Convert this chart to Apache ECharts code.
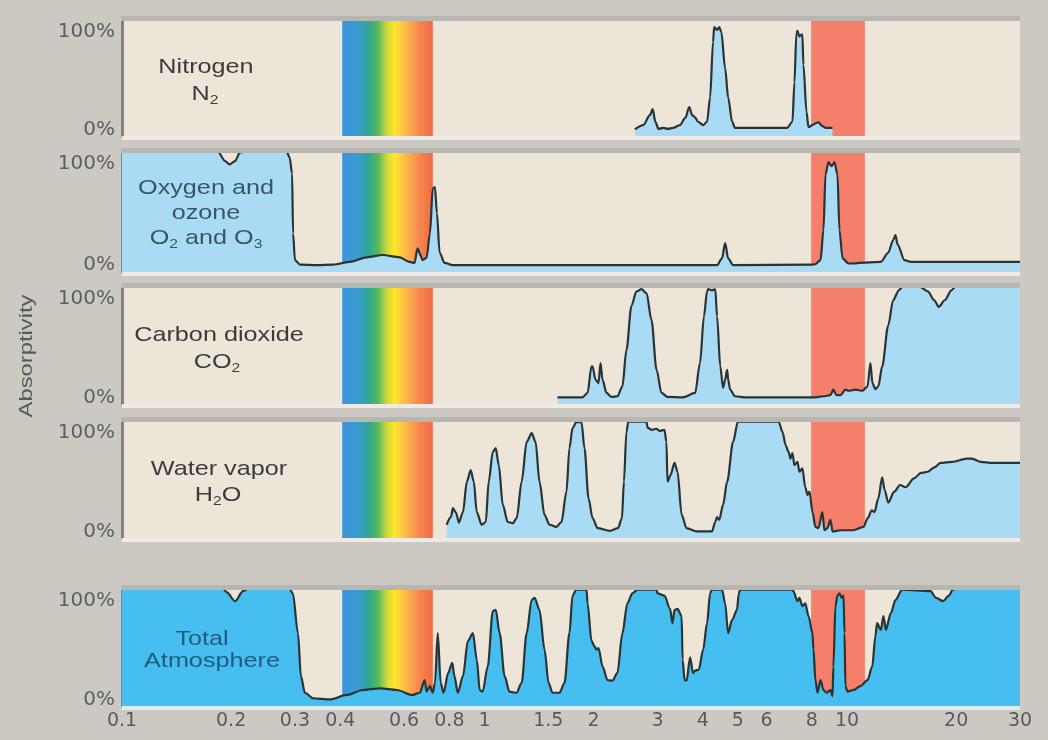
<!DOCTYPE html>
<html><head><meta charset="utf-8">
<script src="https://cdn.jsdelivr.net/npm/echarts@6/dist/echarts.min.js"></script>
<style>html,body{margin:0;padding:0;background:#ccc9c3}#c{width:1048px;height:740px}</style>
</head><body><div id="c"></div><script>
// ---- data (wavelength in micrometres, absorptivity in %) ----
const xTickLabels = [0.1,0.2,0.3,0.4,0.6,0.8,1,1.5,2,3,4,5,6,8,10,20,30];
const xTickMarks = [0.2,0.3,0.4,0.5,0.6,0.7,0.8,0.9,1,1.5,2,3,4,5,6,7,8,10,15,20];
const yTickValues = [0,100];
const visibleBand = [0.405,0.72];
const windowBand = [7.96,11.2];

const nitrogen = [[2.60,0],[2.74,4],[2.86,13],[2.91,18.5],[2.96,7],[3.02,0.5],[3.11,1.5],[3.21,0.5],[3.31,1.5],[3.46,4],[3.58,10.5],[3.67,20.5],[3.74,13],[3.81,11],[3.88,7],[4.01,4],[4.11,7],[4.19,29],[4.27,80],[4.30,93.5],[4.38,91],[4.44,93.5],[4.50,89],[4.61,56],[4.70,29],[4.82,7],[4.91,1.5],[5.17,1.5],[6.14,1.5],[6.84,1.5],[7.07,7],[7.16,43],[7.25,88],[7.30,90],[7.39,85],[7.53,87],[7.58,59],[7.73,16],[7.83,2],[8.03,4],[8.18,5.5],[8.34,6.5],[8.55,3],[8.72,1.5],[9.12,1.5]];

const oxygenOzone = [[0.1,100],[0.184,100],[0.1925,92],[0.198,89],[0.205,92],[0.2115,99.5],[0.217,100],[0.285,100],[0.29,95],[0.2946,81],[0.2964,28],[0.3,4.5],[0.31,0.5],[0.345,0],[0.382,0.5],[0.426,3],[0.474,7],[0.524,9],[0.583,7],[0.621,3],[0.641,2],[0.6535,15],[0.666,9],[0.674,4.5],[0.692,6.5],[0.707,28],[0.72,68],[0.73,69],[0.739,46],[0.752,11],[0.776,2],[0.818,0],[4.38,0],[4.52,6],[4.61,19.5],[4.70,6],[4.85,0],[8.08,0.5],[8.18,1],[8.45,4.5],[8.61,31],[8.72,80],[8.89,91],[9.06,87.5],[9.23,91],[9.41,80],[9.53,31],[9.72,6],[10.1,1.5],[12.4,3],[12.99,11],[13.4,22],[13.6,26.5],[13.8,18],[14.4,4.5],[15.0,3],[30,3]];

const carbonDioxide = [[1.59,0],[1.863,0],[1.924,4],[1.973,28],[1.986,28],[2.024,16],[2.063,13],[2.089,31],[2.116,16],[2.17,4],[2.24,0.5],[2.326,1],[2.401,10],[2.463,43],[2.543,83],[2.625,96],[2.71,98],[2.798,94.5],[2.888,70],[2.982,25],[3.078,4],[3.197,0.5],[3.522,0],[3.81,4],[3.93,31],[4.03,73.5],[4.11,96],[4.14,98],[4.24,97],[4.33,98],[4.38,73.5],[4.47,28],[4.55,8.5],[4.61,16],[4.67,25],[4.70,16],[4.76,7],[4.91,1],[5.28,0],[8.08,0],[8.61,1],[9.0,2],[9.17,7],[9.35,2],[9.6,2],[9.9,7],[10.1,6],[10.55,7],[11.03,6],[11.39,10],[11.6,31],[11.75,13],[11.97,7.5],[12.2,10],[12.5,28],[12.99,65],[13.4,88],[13.9,97],[14.2,100],[15.9,100],[16.7,96],[17.4,88],[17.9,82],[18.6,88],[19.4,97],[19.9,100],[30,100]];

const waterVapor = [[0.786,6],[0.808,13],[0.818,21],[0.834,17],[0.85,8],[0.872,17.5],[0.894,45],[0.916,55.5],[0.934,45],[0.952,17.5],[0.982,6],[1.008,8.5],[1.027,45],[1.054,72],[1.074,75.5],[1.095,60],[1.123,24],[1.159,8.5],[1.197,7.5],[1.227,12],[1.266,45],[1.307,81],[1.349,89],[1.383,81],[1.418,45],[1.464,15],[1.511,6],[1.579,4],[1.63,8.5],[1.683,36],[1.715,75.5],[1.749,93.5],[1.793,99],[1.851,99],[1.887,75.5],[1.936,30],[1.986,12],[2.05,3],[2.218,0.5],[2.335,3],[2.394,12],[2.424,45],[2.463,90],[2.493,99.5],[2.798,99.5],[2.816,94],[2.888,92],[2.982,93],[3.037,91],[3.135,92],[3.175,81],[3.197,45],[3.259,51],[3.343,62],[3.408,54],[3.497,15],[3.609,3],[3.844,0],[4.11,0],[4.24,0],[4.33,8.5],[4.38,13],[4.44,10.5],[4.55,24],[4.67,45],[4.85,81],[5.0,99.5],[6.47,99.5],[6.64,90],[6.77,78],[6.9,72],[6.98,66],[7.07,71],[7.16,60],[7.3,63],[7.39,54],[7.53,57],[7.67,40],[7.78,33],[7.88,36],[8.03,17.5],[8.18,4],[8.34,3],[8.55,17.5],[8.66,1],[8.83,3],[9.0,10.5],[9.12,0],[9.6,1],[10.4,1],[11.1,4],[11.4,12],[11.7,19],[11.9,17.5],[12.2,30],[12.5,49],[12.7,37.5],[12.99,26],[13.5,36],[14.0,42],[14.5,40],[15.3,48],[16.0,53],[16.7,54],[17.4,58],[18.1,62],[19.5,63],[21.4,66],[22.1,66],[23.4,63],[25.1,62],[30,62]];

const totalAtmosphere = [[0.1,100],[0.19,100],[0.1947,97],[0.205,89],[0.2157,98],[0.222,100],[0.29,100],[0.296,96],[0.3058,60],[0.3115,21],[0.3196,6],[0.3365,1],[0.3745,0],[0.4168,4],[0.4623,8.5],[0.515,10],[0.5734,8.5],[0.6313,4],[0.663,6],[0.684,17.5],[0.692,7],[0.707,12],[0.72,6],[0.73,15],[0.743,60],[0.757,15],[0.771,6],[0.794,24],[0.815,33],[0.826,21],[0.844,6],[0.872,21],[0.9,53],[0.929,60],[0.952,36],[0.97,8.5],[0.988,7],[1.021,30],[1.054,80],[1.074,81],[1.101,60],[1.136,21],[1.172,7],[1.225,6],[1.266,15],[1.307,60],[1.349,90],[1.375,92],[1.418,81],[1.464,45],[1.502,15],[1.54,6],[1.61,6],[1.662,15],[1.715,60],[1.749,94],[1.793,99.5],[1.912,99.5],[1.924,87],[1.973,53],[2.011,48],[2.037,45],[2.063,46.5],[2.116,30],[2.184,17.5],[2.254,17],[2.326,24],[2.401,60],[2.478,87],[2.557,96],[2.641,99.5],[2.982,99.5],[3.001,96],[3.135,94],[3.25,82],[3.30,69],[3.343,81],[3.408,82],[3.497,75.5],[3.519,36],[3.564,17.5],[3.609,17],[3.69,38],[3.76,24],[3.81,26],[3.90,27],[4.01,45],[4.11,69],[4.19,96],[4.24,99.5],[4.52,99.5],[4.61,87],[4.70,60],[4.82,72],[4.97,81],[5.03,96],[5.07,99.5],[7.07,99.5],[7.11,98],[7.30,89],[7.39,92],[7.53,84.5],[7.67,87],[7.83,75.5],[8.03,60],[8.08,45],[8.18,17.5],[8.29,6],[8.45,17.5],[8.61,8.5],[8.78,6],[9.0,8.5],[9.12,3],[9.17,30],[9.29,84.5],[9.41,94],[9.53,96],[9.66,92],[9.78,94],[9.84,60],[9.90,12],[10.03,7],[10.41,8.5],[10.88,12],[11.39,17.5],[11.74,30],[11.97,57],[12.1,69],[12.4,63],[12.6,75.5],[12.8,63],[13.2,78],[13.6,90],[14.2,99.5],[17.0,98],[17.6,92],[18.4,89],[19.1,94],[19.6,99.5],[20,100],[30,100]];

const panelSeries = [nitrogen, oxygenOzone, carbonDioxide, waterVapor, totalAtmosphere];
const panelLabels = [
  ['Nitrogen', '{m|N}{s|2}'],
  ['Oxygen and', 'ozone', '{m|O}{s|2}{m| and O}{s|3}'],
  ['Carbon dioxide', '{m|CO}{s|2}'],
  ['Water vapor', '{m|H}{s|2}{m|O}'],
  ['Total', 'Atmosphere']
];

// ---- layout & style ----
const layout = [
  {top:20,  h:116, lx:[206,205], ly:[67,94],  fill:'#a9dcf4', text:'#3c3c3c'},
  {top:152, h:120, lx:[206,206,206], ly:[188,213,238], fill:'#a9dcf4', text:'#3a5566'},
  {top:287, h:117, lx:[219,217], ly:[335,362], fill:'#a9dcf4', text:'#3c3c3c'},
  {top:421, h:117, lx:[219,218], ly:[469,495], fill:'#a9dcf4', text:'#3c3c3c'},
  {top:589, h:117, lx:[202,212], ly:[639,661], fill:'#46bff0', text:'#1f5c80'}
];
const LEFT = 122, RIGHT = 28, W = 1048 - LEFT - RIGHT;
const rainbow = new echarts.graphic.LinearGradient(0,0,1,0,[
  {offset:0, color:'#3b96da'},{offset:0.17, color:'#3b9ad3'},{offset:0.3, color:'#2fa98c'},
  {offset:0.4, color:'#5db95a'},{offset:0.5, color:'#d2dc3a'},{offset:0.58, color:'#ffe72a'},
  {offset:0.7, color:'#fcb94a'},{offset:0.85, color:'#f7874f'},{offset:1, color:'#ef6a44'}]);

const grids = [], xAxes = [], yAxes = [], series = [], graphics = [];
layout.forEach((p, i) => {
  const last = i === layout.length - 1;
  grids.push({left: LEFT, right: RIGHT, top: p.top, height: p.h, show: true,
    backgroundColor: '#ece5d8', borderWidth: 0});
  xAxes.push({type:'log', gridIndex:i, min:0.1, max:30, logBase:10,
    axisLine:{show:false}, splitLine:{show:false},
    axisTick: last ? {show:true, inside:true, length:6, customValues:xTickMarks,
      lineStyle:{color:'rgba(225,240,248,0.9)', width:1}} : {show:false},
    axisLabel: last ? {show:true, customValues:xTickLabels, margin:6,
      fontFamily:'DejaVu Sans', fontSize:19, color:'#5a5a5a',
      formatter: v => String(parseFloat(Number(v).toPrecision(3)))} : {show:false}});
  yAxes.push({type:'value', gridIndex:i, min:-6, max:100,
    axisLine:{show:true, lineStyle:{color:'#84837e', width:3}},
    axisTick:{show:false}, splitLine:{show:false},
    axisLabel:{show:true, customValues:yTickValues, margin:7,
      fontFamily:'DejaVu Sans', fontSize:20, color:'#5e5e5e',
      formatter: v => v === 100 ? '{t|100%}' : v + '%',
      rich:{t:{fontFamily:'DejaVu Sans', fontSize:20, color:'#5e5e5e', padding:[24,0,0,0]}}}});
  series.push({type:'line', xAxisIndex:i, yAxisIndex:i, data:[], z:1, silent:true,
    markArea:{silent:true, label:{show:false}, data:[
      [{xAxis:visibleBand[0], itemStyle:{color:rainbow, opacity:1}}, {xAxis:visibleBand[1]}],
      [{xAxis:windowBand[0], itemStyle:{color:'#f47f6b', opacity:1}}, {xAxis:windowBand[1]}]
    ]}});
  series.push({type:'line', xAxisIndex:i, yAxisIndex:i, data:panelSeries[i], z:3,
    showSymbol:false, smooth:0.3, smoothMonotone:'x', clip:true, silent:true,
    lineStyle:{color:'#2a3434', width:2.2},
    areaStyle:{color:p.fill, opacity:1, origin:'start'}});
  // panel edges: darker band above, light strip below
  graphics.push({type:'rect', z:100, silent:true, shape:{x:LEFT-1, y:p.top-4, width:W+1, height:5},
    style:{fill:'#b8b6b0'}});
  graphics.push({type:'rect', z:100, silent:true, shape:{x:LEFT, y:p.top+p.h, width:W, height:4},
    style:{fill: last ? '#dcecf2' : '#efebe4'}});
  panelLabels[i].forEach((t, j) => {
    graphics.push({type:'text', z:101, silent:true, x:p.lx[j], y:p.ly[j], scaleX:1.2,
      style:{text:t, align:'center', verticalAlign:'middle', fill:p.text,
        font:'21px "Liberation Sans"',
        rich:{m:{fontSize:21, fontFamily:'Liberation Sans', fill:p.text, lineHeight:26},
              s:{fontSize:13, fontFamily:'Liberation Sans', fill:p.text, lineHeight:12, verticalAlign:'bottom'}}}});
  });
});
graphics.push({type:'text', z:101, silent:true, x:27, y:356, rotation:Math.PI/2, scaleX:1.25,
  style:{text:'Absorptivity', align:'center', verticalAlign:'middle', fill:'#5a5a5a',
    font:'19px "Liberation Sans"'}});

const chart = echarts.init(document.getElementById('c'), null, {renderer:'canvas'});
chart.setOption({
  animation:false, backgroundColor:'#ccc9c3',
  grid:grids, xAxis:xAxes, yAxis:yAxes, series:series, graphic:graphics
});
</script></body></html>
